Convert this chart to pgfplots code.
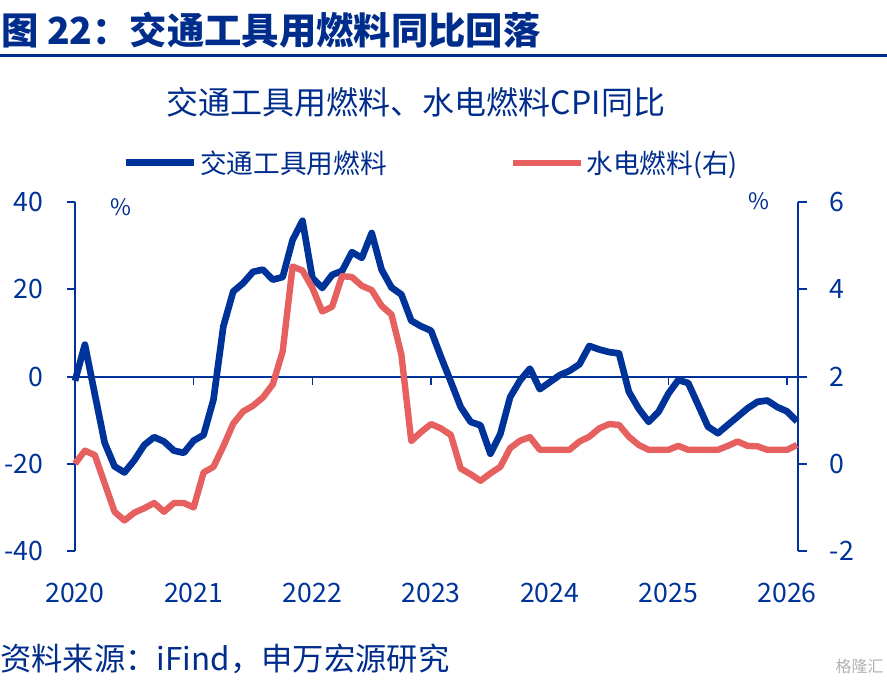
\documentclass[border=0pt]{standalone}
\usepackage{fontspec}
\setmainfont{Noto Sans CJK SC}
\usepackage{pgfplots}
\usepackage{pgfplotstable}
\pgfplotsset{compat=1.18}
\definecolor{myblue}{RGB}{0,51,153}
\definecolor{myred}{RGB}{230,96,96}
\definecolor{txtblue}{RGB}{0,45,140}

\pgfplotstableread{
m v
0 -1
1 7.3
2 -4
3 -15.2
4 -20.6
5 -22
6 -19.2
7 -15.7
8 -13.9
9 -14.9
10 -17
11 -17.5
12 -14.7
13 -13.4
14 -5.3
15 11.5
16 19.5
17 21.4
18 24
19 24.5
20 22.2
21 22.8
22 31.3
23 35.7
24 22.6
25 20.3
26 23.3
27 24.2
28 28.5
29 27.2
30 32.9
31 24.5
32 20.4
33 18.8
34 12.8
35 11.5
36 10.5
37 4.5
38 -1.2
39 -7
40 -10.4
41 -11.2
42 -17.7
43 -13.2
44 -4.7
45 -0.9
46 1.8
47 -2.9
48 -1.3
49 0.3
50 1.3
51 2.8
52 7
53 6.2
54 5.6
55 5.3
56 -3.5
57 -7.4
58 -10.4
59 -8.1
60 -3.9
61 -0.8
62 -1.5
63 -6.5
64 -11.5
65 -13
66 -11.1
67 -9.2
68 -7.3
69 -5.8
70 -5.5
71 -7
72 -8
73 -10.3
}\transport

\pgfplotstableread{
m v
0 0.0
1 0.3
2 0.2
3 -0.45
4 -1.1
5 -1.3
6 -1.12
7 -1.02
8 -0.9
9 -1.1
10 -0.9
11 -0.9
12 -1.0
13 -0.2
14 -0.07
15 0.4
16 0.92
17 1.2
18 1.33
19 1.52
20 1.82
21 2.58
22 4.52
23 4.43
24 4.03
25 3.49
26 3.6
27 4.3
28 4.28
29 4.08
30 3.98
31 3.62
32 3.42
33 2.5
34 0.52
35 0.73
36 0.91
37 0.81
38 0.66
39 -0.11
40 -0.24
41 -0.39
42 -0.22
43 -0.07
44 0.36
45 0.53
46 0.61
47 0.32
48 0.32
49 0.32
50 0.32
51 0.51
52 0.62
53 0.81
54 0.91
55 0.89
56 0.62
57 0.43
58 0.32
59 0.32
60 0.32
61 0.41
62 0.32
63 0.32
64 0.32
65 0.32
66 0.41
67 0.51
68 0.41
69 0.4
70 0.32
71 0.32
72 0.32
73 0.43
}\utility

\begin{document}
\begin{tikzpicture}
\begin{scope}[x=0.75pt,y=0.75pt]
\path[use as bounding box] (0,0) rectangle (887,683);
\node[anchor=base west, inner sep=0pt, font=\fontsize{28}{32}\selectfont\bfseries, text=txtblue] at (1,638) {图 22：交通工具用燃料同比回落};
\draw[txtblue, line width=2.25pt] (0,627) -- (887,627);
\node[anchor=base, inner sep=0pt, font=\fontsize{24}{28}\selectfont, text=txtblue] at (416,568) {交通工具用燃料、水电燃料CPI同比};
\node[inner sep=0pt, font=\fontsize{17}{20}\selectfont, text=txtblue] at (121,476) {\%};
\node[inner sep=0pt, font=\fontsize{17}{20}\selectfont, text=txtblue] at (759,482) {\%};
\node[anchor=base west, inner sep=0pt, font=\fontsize{23.5}{28}\selectfont, text=txtblue] at (0,13) {资料来源：iFind，申万宏源研究};
\node[anchor=east, inner sep=0pt, text=black!30, font=\fontsize{12}{14}\selectfont] at (884,17) {格隆汇};
\end{scope}

\begin{axis}[
  at={(55.875pt,99pt)}, anchor=south west, scale only axis,
  width=542.25pt, height=261.75pt,
  xmin=-0.05, xmax=73.05, ymin=-40, ymax=40,
  clip=false,
  axis y line*=left, axis x line*=bottom,
  x axis line style={draw=none},
  xtick={0,12,24,36,48,60,72},
  xticklabels={2020,2021,2022,2023,2024,2025,2026},
  xtick style={draw=none},
  ytick={-40,-20,0,20,40}, yticklabels={-40,-20,0,20,40},
  tick align=outside, major tick length=6pt,
  y axis line style={myblue, line width=1.5pt},
  ytick style={myblue, line width=1.5pt},
  ticklabel style={font=\fontsize{20}{23}\selectfont, text=myblue},
  yticklabel style={anchor=east, inner sep=0pt, xshift=-17pt},
  xticklabel style={anchor=base, inner sep=0pt, yshift=-32.25pt},
]
\draw[myblue, line width=1.5pt] (axis cs:-0.05,0) -- (axis cs:73.05,0);
\pgfplotsinvokeforeach{12,24,36,48,60,72}{
  \draw[myblue, line width=1pt] (axis cs:#1,0) -- ++(0pt,-6pt);
}
\addplot[myblue, line width=5pt, line join=round, no markers] table[x=m, y=v] {\transport};
\end{axis}

\begin{axis}[
  at={(55.875pt,99pt)}, anchor=south west, scale only axis,
  width=542.25pt, height=261.75pt,
  xmin=-0.05, xmax=73.05, ymin=-2, ymax=6,
  clip=false,
  axis y line*=right, axis x line=none,
  xtick=\empty,
  ytick={-2,0,2,4,6}, yticklabels={-2,0,2,4,6},
  tick align=outside, major tick length=7pt,
  y axis line style={myblue, line width=1.5pt},
  ytick style={myblue, line width=1.5pt},
  ticklabel style={font=\fontsize{20}{23}\selectfont, text=myblue},
  yticklabel style={anchor=west, inner sep=0pt, xshift=17pt},
  legend columns=2,
  legend style={at={(0.066,1.112)}, anchor=west, draw=none, fill=none,
    inner sep=0pt, font=\fontsize{20}{24}\selectfont, text=txtblue,
    nodes={inner sep=2pt},
    /tikz/every even column/.append style={column sep=90pt}},
  legend image code/.code={\draw[#1, line cap=butt] (0pt,0pt) -- (51pt,0pt);},
]
\addlegendimage{myblue, line width=5.2pt}
\addlegendentry{交通工具用燃料}
\addplot[myred, line width=4.8pt, line join=round, no markers] table[x=m, y=v] {\utility};
\addlegendentry{水电燃料(右)}
\end{axis}
\end{tikzpicture}
\end{document}
